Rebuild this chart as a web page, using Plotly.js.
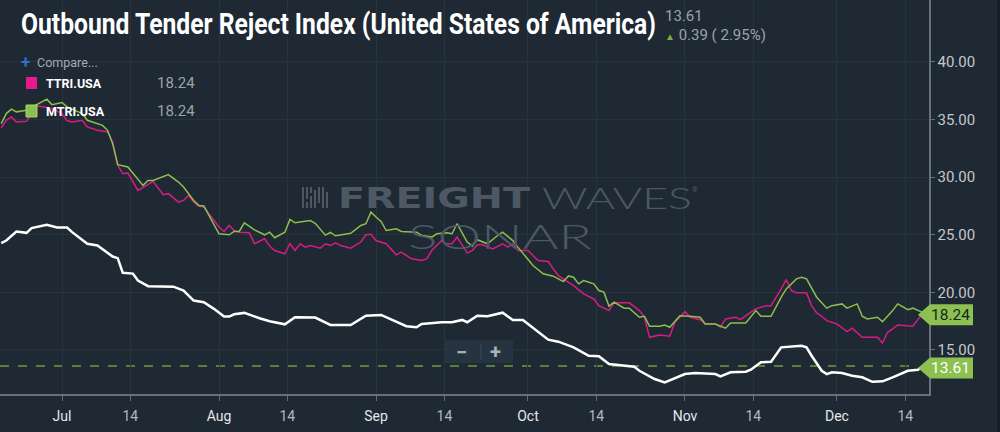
<!DOCTYPE html>
<html>
<head>
<meta charset="utf-8">
<script src="https://cdn.plot.ly/plotly-3.0.1.min.js"></script>
<style>
html,body{margin:0;padding:0;background:#1e2934;overflow:hidden}
#chart{width:1000px;height:432px}
</style>
</head>
<body>
<div id="chart"></div>
<script>
// ---------------- DATA ----------------
const chartTitle = 'Outbound Tender Reject Index (United States of America)';
const otriName = 'OTRI.USA';
const ttriName = 'TTRI.USA';
const mtriName = 'MTRI.USA';
const changeAbs = 0.39;
const changePct = 2.95;

const otriDates = ['2021-06-19','2021-06-20','2021-06-22','2021-06-24','2021-06-25','2021-06-28','2021-06-30','2021-07-02','2021-07-03','2021-07-05','2021-07-06','2021-07-08','2021-07-11','2021-07-12','2021-07-13','2021-07-15','2021-07-16','2021-07-18','2021-07-23','2021-07-25','2021-07-27','2021-07-29','2021-07-31','2021-08-02','2021-08-03','2021-08-04','2021-08-06','2021-08-09','2021-08-11','2021-08-14','2021-08-16','2021-08-20','2021-08-23','2021-08-27','2021-08-30','2021-09-02','2021-09-07','2021-09-09','2021-09-10','2021-09-14','2021-09-16','2021-09-18','2021-09-19','2021-09-21','2021-09-23','2021-09-26','2021-09-28','2021-09-30','2021-10-03','2021-10-05','2021-10-07','2021-10-10','2021-10-13','2021-10-15','2021-10-17','2021-10-22','2021-10-23','2021-10-26','2021-10-28','2021-10-30','2021-11-01','2021-11-03','2021-11-07','2021-11-08','2021-11-10','2021-11-13','2021-11-14','2021-11-16','2021-11-18','2021-11-20','2021-11-22','2021-11-24','2021-11-25','2021-11-26','2021-11-28','2021-11-29','2021-11-30','2021-12-02','2021-12-04','2021-12-06','2021-12-08','2021-12-10','2021-12-12','2021-12-15','2021-12-17','2021-12-18'];
const otriValues = [24.28,24.50,25.29,25.17,25.58,25.87,25.63,25.63,25.23,24.59,24.22,24.07,23.11,22.97,21.70,21.63,21.03,20.54,20.50,20.16,19.29,19.15,18.57,17.90,17.90,18.10,18.22,17.76,17.50,17.23,17.84,17.81,17.17,17.17,17.98,18.04,17.06,16.97,17.26,17.41,17.41,17.61,17.41,17.98,17.93,18.24,17.61,17.61,16.54,15.90,15.72,15.23,14.50,14.45,13.78,13.55,13.20,12.48,12.19,12.54,12.91,13.00,12.91,12.71,13.06,13.11,13.29,13.93,13.98,15.23,15.32,15.37,15.23,14.50,13.20,12.91,13.06,13.00,12.77,12.63,12.24,12.28,12.63,13.20,13.29,13.61];

const ttriDates = ['2021-06-19','2021-06-20','2021-06-21','2021-06-22','2021-06-24','2021-06-26','2021-06-29','2021-07-01','2021-07-02','2021-07-03','2021-07-05','2021-07-06','2021-07-08','2021-07-10','2021-07-11','2021-07-12','2021-07-13','2021-07-14','2021-07-16','2021-07-19','2021-07-21','2021-07-22','2021-07-24','2021-07-25','2021-07-26','2021-07-27','2021-07-28','2021-07-29','2021-07-30','2021-08-01','2021-08-02','2021-08-03','2021-08-04','2021-08-05','2021-08-07','2021-08-08','2021-08-10','2021-08-11','2021-08-12','2021-08-14','2021-08-15','2021-08-16','2021-08-17','2021-08-18','2021-08-19','2021-08-21','2021-08-22','2021-08-23','2021-08-24','2021-08-25','2021-08-27','2021-08-29','2021-08-30','2021-08-31','2021-09-01','2021-09-03','2021-09-05','2021-09-06','2021-09-08','2021-09-10','2021-09-11','2021-09-12','2021-09-14','2021-09-15','2021-09-16','2021-09-17','2021-09-19','2021-09-20','2021-09-21','2021-09-22','2021-09-24','2021-09-26','2021-09-27','2021-09-28','2021-09-29','2021-10-01','2021-10-03','2021-10-05','2021-10-06','2021-10-07','2021-10-10','2021-10-12','2021-10-14','2021-10-15','2021-10-17','2021-10-18','2021-10-21','2021-10-23','2021-10-24','2021-10-25','2021-10-27','2021-10-29','2021-10-30','2021-11-01','2021-11-02','2021-11-04','2021-11-05','2021-11-07','2021-11-08','2021-11-09','2021-11-11','2021-11-12','2021-11-14','2021-11-15','2021-11-17','2021-11-18','2021-11-20','2021-11-21','2021-11-22','2021-11-23','2021-11-25','2021-11-26','2021-11-27','2021-11-28','2021-11-29','2021-12-01','2021-12-03','2021-12-04','2021-12-06','2021-12-09','2021-12-10','2021-12-11','2021-12-12','2021-12-13','2021-12-16','2021-12-18'];
const ttriValues = [34.28,34.94,35.23,34.80,34.85,36.19,35.96,35.52,34.89,34.80,34.94,34.37,34.07,33.93,33.06,31.03,30.30,30.37,28.85,29.63,28.48,28.57,27.84,27.98,28.42,27.84,27.50,27.41,26.83,25.67,25.29,25.81,25.37,25.23,25.17,24.22,24.65,24.02,23.63,23.35,24.22,23.63,24.22,23.93,24.07,23.84,24.22,24.07,24.30,24.07,23.84,24.37,25.00,25.05,24.50,24.22,23.26,23.50,22.91,22.77,22.91,23.63,24.50,24.22,24.22,24.80,23.43,23.63,24.13,24.13,23.78,24.22,23.93,24.22,23.63,23.63,22.77,22.68,22.04,21.46,20.59,19.87,19.43,18.85,18.42,19.09,19.09,18.42,17.84,16.10,16.30,16.19,17.41,18.33,17.84,17.63,17.26,17.26,16.97,17.70,17.84,17.63,18.28,18.57,18.85,18.85,20.30,21.11,20.16,19.96,19.96,18.85,18.22,17.93,17.55,17.26,16.59,16.89,16.10,16.10,15.61,16.54,16.83,17.17,17.06,18.24];

const mtriDates = ['2021-06-19','2021-06-20','2021-06-21','2021-06-22','2021-06-24','2021-06-27','2021-06-28','2021-06-29','2021-07-01','2021-07-02','2021-07-04','2021-07-05','2021-07-06','2021-07-09','2021-07-10','2021-07-11','2021-07-12','2021-07-14','2021-07-17','2021-07-18','2021-07-19','2021-07-21','2021-07-22','2021-07-24','2021-07-25','2021-07-27','2021-07-28','2021-07-29','2021-08-01','2021-08-03','2021-08-04','2021-08-05','2021-08-06','2021-08-08','2021-08-10','2021-08-11','2021-08-12','2021-08-14','2021-08-15','2021-08-16','2021-08-18','2021-08-19','2021-08-20','2021-08-22','2021-08-23','2021-08-24','2021-08-27','2021-08-29','2021-08-30','2021-08-31','2021-09-01','2021-09-02','2021-09-03','2021-09-05','2021-09-06','2021-09-09','2021-09-10','2021-09-12','2021-09-13','2021-09-15','2021-09-16','2021-09-17','2021-09-19','2021-09-20','2021-09-21','2021-09-23','2021-09-25','2021-09-26','2021-09-28','2021-09-29','2021-10-02','2021-10-04','2021-10-06','2021-10-08','2021-10-09','2021-10-10','2021-10-11','2021-10-12','2021-10-14','2021-10-15','2021-10-16','2021-10-17','2021-10-18','2021-10-20','2021-10-21','2021-10-23','2021-10-24','2021-10-25','2021-10-27','2021-10-28','2021-10-29','2021-10-31','2021-11-02','2021-11-04','2021-11-05','2021-11-07','2021-11-09','2021-11-10','2021-11-13','2021-11-15','2021-11-16','2021-11-18','2021-11-20','2021-11-21','2021-11-23','2021-11-24','2021-11-25','2021-11-27','2021-11-29','2021-11-30','2021-12-02','2021-12-03','2021-12-05','2021-12-06','2021-12-07','2021-12-09','2021-12-10','2021-12-12','2021-12-13','2021-12-15','2021-12-16','2021-12-18'];
const mtriValues = [34.65,35.52,35.90,35.67,35.81,36.48,36.77,36.30,36.48,36.10,35.67,35.52,34.94,34.50,34.07,32.91,31.09,30.89,29.29,29.72,29.72,30.02,30.22,29.58,29.15,27.98,27.55,27.50,25.09,25.00,25.29,25.29,26.04,25.43,25.00,25.23,24.74,25.22,26.33,26.04,26.17,26.24,26.00,24.97,25.20,24.91,25.13,25.81,25.96,26.97,26.54,26.16,25.37,25.52,25.29,25.23,24.94,24.80,25.09,25.17,25.09,25.96,24.37,24.02,24.57,24.22,24.94,25.23,24.50,23.93,22.33,21.61,21.41,20.94,21.43,21.32,20.74,21.03,20.74,20.16,20.02,18.80,19.15,18.63,18.63,17.84,17.93,17.06,17.06,17.17,16.97,17.98,17.93,17.84,17.26,17.26,16.89,17.35,17.35,18.42,17.93,17.93,19.58,20.30,21.17,21.32,21.17,19.58,18.63,18.85,19.00,18.63,19.00,17.93,17.70,17.84,17.46,18.42,19.00,18.50,18.63,18.24];

const xTickDates = ['2021-07-01','2021-07-14 12:00','2021-08-01','2021-08-14 12:00','2021-09-01','2021-09-14 12:00','2021-10-01','2021-10-14 12:00','2021-11-01','2021-11-14 12:00','2021-12-01','2021-12-14 12:00'];
const xTickLabels = ['Jul','14','Aug','14','Sep','14','Oct','14','Nov','14','Dec','14'];
const yTickValues = [15, 20, 25, 30, 35, 40];

// ---------------- STYLE / LAYOUT ----------------
const BG = '#1e2934';
const GRID = '#27343f';
const AXIS = '#66717b';
const GREY_TXT = '#9ba3aa';
const MAGENTA = '#d81b84';
const GREEN = '#8cc04a';
const FLAG_GREEN = '#8cc152';
const FONT = 'Roboto, "Noto Sans", Arial, sans-serif';

const X_RANGE = ['2021-06-18 18:14', '2021-12-19 04:20'];
const Y_RANGE = [11.18, 45.38];
const PW = 929, PH = 394;           // plot area in pixels (margins l=0,t=0)
const px = x => x / PW;             // page pixel -> paper x
const py = y => 1 - y / PH;         // page pixel -> paper y
const vy = v => (v - Y_RANGE[0]) / (Y_RANGE[1] - Y_RANGE[0]); // value -> paper y
const FLAG_DROP = 2 / PH;           // flags sit slightly under their value, as in the original

const lastOtri = otriValues[otriValues.length - 1];
const lastTtri = ttriValues[ttriValues.length - 1];
const lastMtri = mtriValues[mtriValues.length - 1];

const traces = [
  {x: ttriDates, y: ttriValues, name: ttriName, type: 'scatter', mode: 'lines',
   line: {color: MAGENTA, width: 1.5}, hoverinfo: 'skip'},
  {x: mtriDates, y: mtriValues, name: mtriName, type: 'scatter', mode: 'lines',
   line: {color: GREEN, width: 1.5}, hoverinfo: 'skip'},
  {x: otriDates, y: otriValues, name: otriName, type: 'scatter', mode: 'lines',
   line: {color: '#ffffff', width: 2.5}, hoverinfo: 'skip'}
];

function ann(text, x, y, opts) {
  return Object.assign({text: text, xref: 'paper', yref: 'paper', x: px(x), y: py(y),
    xanchor: 'left', yanchor: 'middle', align: 'left', showarrow: false, borderpad: 0,
    font: {family: FONT, size: 14, color: GREY_TXT}}, opts || {});
}

const wmColor = '#4d5864';
const annotations = [
  ann(chartTitle, 20, 25, {font: {family: FONT, size: 26, color: '#ffffff', weight: 700}}),
  ann(lastOtri.toFixed(2), 664, 16, {font: {family: FONT, size: 15, color: GREY_TXT}}),
  ann('<span style="color:#74b33c;font-size:10px">▲</span> ' + changeAbs.toFixed(2) + ' ( ' + changePct.toFixed(2) + '%)',
      664, 35, {font: {family: FONT, size: 15, color: GREY_TXT}}),
  ann('+', 20, 62, {font: {family: FONT, size: 17, color: '#2f6fd0', weight: 700}}),
  ann('Compare...', 36, 62, {font: {family: FONT, size: 12.5, color: '#a3abb3'}}),
  ann(ttriName, 45, 83, {font: {family: FONT, size: 12.5, color: '#ffffff', weight: 700}}),
  ann(lastTtri.toFixed(2), 156, 83, {font: {family: FONT, size: 15, color: GREY_TXT}}),
  ann(mtriName, 45, 111, {font: {family: FONT, size: 12.5, color: '#ffffff', weight: 700}}),
  ann(lastMtri.toFixed(2), 156, 111, {font: {family: FONT, size: 15, color: GREY_TXT}}),
  // watermark
  ann('FREIGHT', 337, 198, {font: {family: '"DejaVu Sans", sans-serif', size: 29, color: wmColor, weight: 700}}),
  ann('WAVES', 541, 198, {font: {family: 'Lato, "DejaVu Sans", sans-serif', size: 29, color: wmColor, weight: 300}}),
  ann('®', 691, 190, {font: {family: FONT, size: 7, color: wmColor}}),
  ann('SONAR', 407, 236, {font: {family: 'Lato, "DejaVu Sans", sans-serif', size: 33, color: wmColor, weight: 300}}),
  // zoom control
  ann('−', 455, 352, {font: {family: FONT, size: 20, color: '#a9b1b9', weight: 700}}),
  ann('+', 489, 352, {font: {family: FONT, size: 20, color: '#a9b1b9', weight: 700}}),
  // end flags
  {text: lastMtri.toFixed(2), xref: 'paper', yref: 'paper', x: px(951), y: vy(lastMtri) - FLAG_DROP, xanchor: 'center', yanchor: 'middle',
   showarrow: false, borderpad: 0, font: {family: FONT, size: 15.5, color: '#1b1f23'}},
  {text: lastOtri.toFixed(2), xref: 'paper', yref: 'paper', x: px(951), y: vy(lastOtri) - FLAG_DROP, xanchor: 'center', yanchor: 'middle',
   showarrow: false, borderpad: 0, font: {family: FONT, size: 15.5, color: '#ffffff'}}
];

function flag(v) {
  const t = px(918), l = px(930), r = px(973), h = 10.5 / PH, yc = vy(v) - FLAG_DROP;
  return {type: 'path', xref: 'paper', yref: 'paper', layer: 'above',
    path: `M ${t},${yc} L ${l},${yc + h} L ${r},${yc + h} L ${r},${yc - h} L ${l},${yc - h} Z`,
    fillcolor: FLAG_GREEN, line: {width: 0}};
}
function rect(x0, y0, x1, y1, fill, line) {
  return {type: 'rect', xref: 'paper', yref: 'paper', layer: 'above',
    x0: px(x0), x1: px(x1), y0: py(y0), y1: py(y1), fillcolor: fill,
    line: line || {width: 0}};
}

const shapes = [
  // dashed last-value line
  {type: 'line', xref: 'paper', yref: 'y', x0: 0, x1: px(918), y0: lastOtri, y1: lastOtri,
   layer: 'below', line: {color: '#6f9a3e', width: 1.5, dash: 'dash'}},
  // legend squares
  rect(26, 77, 37, 89, '#e6198d'),
  rect(26, 105, 37, 117, '#8cc152', {color: '#a8d46f', width: 1}),
  // zoom control box
  rect(445, 340, 513, 363, '#263442'),
  {type: 'line', xref: 'paper', yref: 'paper', layer: 'above', x0: px(481), x1: px(481), y0: py(344), y1: py(359),
   line: {color: '#3c4a57', width: 1}},
  // flags
  flag(lastMtri),
  flag(lastOtri),
  // darker page edge on the far right
  rect(997, 0, 1001, 432, '#161f28')
];
// watermark logo (vertical bars)
const logoBars = [[303, 187, 208], [307, 187, 199], [307, 202, 208], [311, 187, 193], [311, 196, 208], [315, 190, 208], [319, 187, 203], [323, 187, 208], [327, 192, 208]];
logoBars.forEach(b => shapes.push({type: 'line', xref: 'paper', yref: 'paper', layer: 'below',
  x0: px(b[0]), x1: px(b[0]), y0: py(b[1]), y1: py(b[2]), line: {color: wmColor, width: 2}}));

const layout = {
  width: 1000, height: 432,
  paper_bgcolor: BG, plot_bgcolor: BG,
  margin: {l: 0, r: 71, t: 0, b: 38, pad: 0},
  showlegend: false,
  font: {family: FONT, color: GREY_TXT},
  xaxis: {
    type: 'date', range: X_RANGE, tickmode: 'array', tickvals: xTickDates,
    ticktext: xTickLabels.map(t => /\d/.test(t) ? t : '<span style="color:#e4e7ea">' + t + '</span>'),
    ticks: 'outside', ticklen: 5, tickcolor: AXIS, tickwidth: 1,
    showline: true, linecolor: AXIS, linewidth: 1.5, mirror: false,
    showgrid: true, gridcolor: GRID, gridwidth: 1, zeroline: false,
    tickfont: {family: FONT, size: 14, color: '#b3b9bf'}, ticklabelstandoff: 4, fixedrange: true
  },
  yaxis: {
    side: 'right', range: Y_RANGE, tickmode: 'array', tickvals: yTickValues, tickformat: '.2f',
    ticks: 'outside', ticklen: 4, tickcolor: AXIS, tickwidth: 1,
    showline: true, linecolor: AXIS, linewidth: 1.5,
    showgrid: true, gridcolor: GRID, gridwidth: 1, zeroline: false,
    tickfont: {family: FONT, size: 15, color: '#c3c8cd'}, fixedrange: true
  },
  annotations: annotations,
  shapes: shapes
};

// target widths (and vertical stretch) of a few texts whose lettering is condensed / extended in the original
const fitWidths = {};
fitWidths[chartTitle] = [635, 'spacingAndGlyphs', 1.11];
fitWidths['FREIGHT'] = [192, 'spacingAndGlyphs', 1];
fitWidths['WAVES'] = [150, 'spacingAndGlyphs', 1];
fitWidths['SONAR'] = [184, 'spacingAndGlyphs', 1];

Plotly.newPlot('chart', traces, layout, {staticPlot: true, displayModeBar: false}).then(() => {
  document.querySelectorAll('#chart text.annotation-text').forEach(el => {
    const f = fitWidths[el.textContent];
    if (f) {
      el.setAttribute('textLength', f[0]);
      el.setAttribute('lengthAdjust', f[1]);
      if (f[2] !== 1) {
        const y0 = parseFloat(el.getAttribute('y')) || 0;
        el.setAttribute('transform', `matrix(1,0,0,${f[2]},0,${y0 * (1 - f[2])})`);
      }
      const grp = el.closest('g.annotation');
      const bg = grp && grp.querySelector('rect.bg');
      if (bg) bg.setAttribute('width', f[0]);
    }
  });
});
</script>
</body>
</html>
